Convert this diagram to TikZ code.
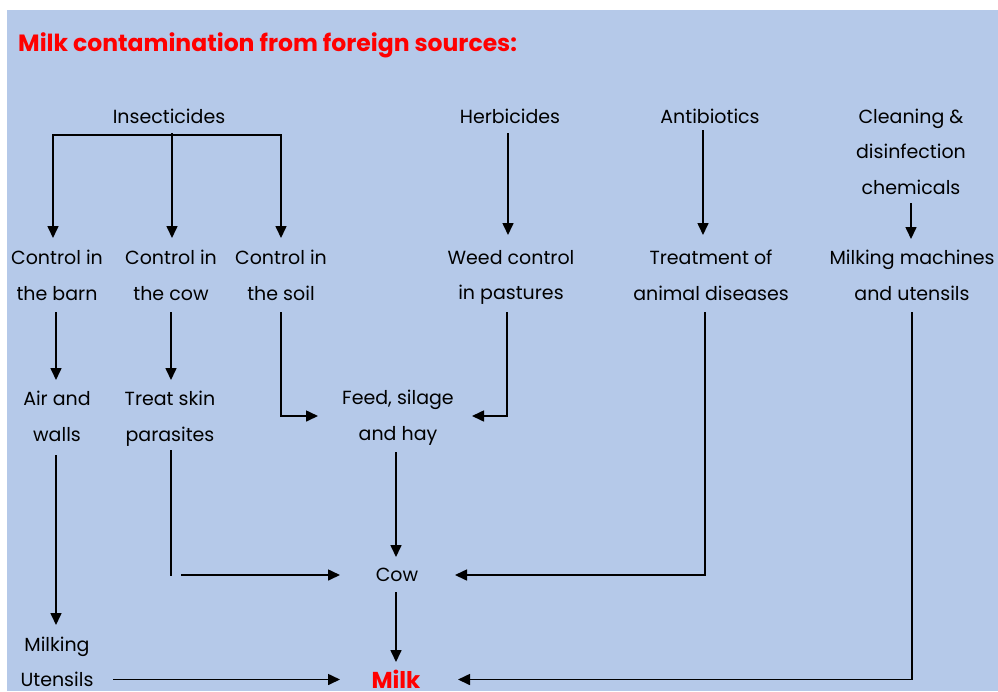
\documentclass[tikz,border=0pt]{standalone}
\usepackage{fontspec}
\setmainfont{Poppins}
\usetikzlibrary{arrows.meta,calc}
\definecolor{bgblue}{RGB}{181,201,233}
\definecolor{titlered}{RGB}{255,0,0}
\begin{document}
\begin{tikzpicture}[x=1pt,y=-1pt,
  lbl/.style={inner sep=0pt, outer sep=0pt, align=center, font=\fontsize{19}{35.5}\selectfont},
  ln/.style={line width=1.6pt, line cap=rect},
  arr/.style={line width=1.6pt, -{Triangle[length=12pt,width=11pt]}}]
\useasboundingbox (0,0) rectangle (998,691);
\fill[white] (0,0) rectangle (998,691);
\fill[bgblue] (7,10) rectangle (998,691);
% title
\node[anchor=west, inner sep=0pt, text=titlered, font=\fontsize{23.5}{26}\selectfont\bfseries] (title) at (18,45) {Milk contamination from foreign sources:};
% sources
\node[lbl] (ins) at (169,116) {Insecticides};
\node[lbl] (herb) at (510,116) {Herbicides};
\node[lbl] (anti) at (710,116) {Antibiotics};
\node[lbl] (clean) at (911,151.5) {Cleaning \&\\disinfection\\chemicals};
% second row
\node[lbl] (barn) at (57,275.5) {Control in\\the barn};
\node[lbl] (cowc) at (171,275.5) {Control in\\the cow};
\node[lbl] (soil) at (281,275.5) {Control in\\the soil};
\node[lbl] (weed) at (511,277.5) {Weed control\\in pastures};
\node[lbl] (treat) at (711,275.5) {Treatment of\\animal diseases};
\node[lbl] (mach) at (912,275.5) {Milking machines\\and utensils};
% third row
\node[lbl] (air) at (57,416.5) {Air and\\walls};
\node[lbl] (skin) at (170,418.5) {Treat skin\\parasites};
\node[lbl] (feed) at (398,417.5) {Feed, silage\\and hay};
% lower
\node[lbl] (cow) at (397,575) {Cow};
\node[lbl] (milking) at (57,662) {Milking\\Utensils};
\node[lbl, text=titlered, font=\fontsize{23}{26}\selectfont\bfseries] (milk) at (396,679.5) {Milk};
% connectors
\coordinate (barL) at ($(ins)+(-116,19)$);
\coordinate (barR) at ($(ins)+(112,19)$);
\draw[ln] (barL) -- (barR);
\draw[arr] (barL) -- ($(barn)+(-4,-37.5)$);
\draw[arr] ($(ins)+(3,17)$) -- ($(cowc)+(1,-37.5)$);
\draw[arr] (barR) -- ($(soil)+(0,-37.5)$);
\draw[arr] ($(herb)+(-2,17)$) -- ($(weed)+(-3,-42.5)$);
\draw[arr] ($(anti)+(-7,14)$) -- ($(treat)+(-8,-40.5)$);
\draw[arr] ($(clean)+(0,51.5)$) -- ($(mach)+(-1,-36.5)$);
\draw[arr] ($(barn)+(-1,36.5)$) -- ($(air)+(-1,-36.5)$);
\draw[arr] ($(cowc)+(0,36.5)$) -- ($(skin)+(1,-38.5)$);
\draw[arr] ($(soil)+(0,36.5)$) |- ($(feed)+(-80,-1.5)$);
\draw[arr] ($(weed)+(-4,34.5)$) |- ($(feed)+(74,-1.5)$);
\draw[arr] ($(air)+(-1,38.5)$) -- ($(milking)+(-1,-37)$);
\draw[ln] ($(skin)+(1,32.5)$) -- ($(cow)+(-226,0)$);
\draw[arr] ($(cow)+(-216,0)$) -- ($(cow)+(-57,0)$);
\draw[arr] ($(feed)+(-2,34.5)$) -- ($(cow)+(-1,-18)$);
\draw[arr] ($(treat)+(-6,36.5)$) |- ($(cow)+(58,0)$);
\draw[arr] ($(cow)+(-1,17)$) -- ($(milk)+(0,-17.5)$);
\draw[arr] ($(milking)+(56,17.5)$) -- ($(milk)+(-56,0)$);
\draw[arr] ($(mach)+(0,36.5)$) |- ($(milk)+(62,0)$);
\end{tikzpicture}
\end{document}
